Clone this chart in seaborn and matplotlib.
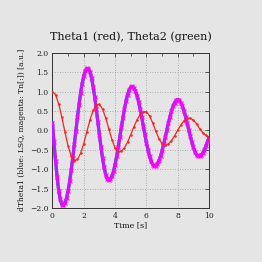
import numpy as np
import matplotlib
matplotlib.use("Agg")
import matplotlib.pyplot as plt
import seaborn as sns
from matplotlib.ticker import MultipleLocator

# Theta1 (red), sampled every 0.2 s
theta1 = [1.00, 0.92, 0.68, 0.34, -0.04, -0.40, -0.66, -0.785, -0.75, -0.59,
          -0.34, -0.03, 0.27, 0.515, 0.656, 0.669, 0.549, 0.322, 0.038, -0.242,
          -0.455, -0.556, -0.538, -0.448, -0.298, -0.110, 0.089, 0.269, 0.407, 0.481,
          0.477, 0.374, 0.194, -0.021, -0.218, -0.351, -0.389, -0.352, -0.264, -0.138,
          0.004, 0.140, 0.248, 0.310, 0.315, 0.265, 0.167, 0.040, -0.06, -0.13, -0.19]
t1 = np.linspace(0, 10, len(theta1))

# dTheta1 (magenta Tn[:], blue LSQ), sampled every 0.1 s
dtheta1 = [0.20, -0.30, -0.78, -1.20, -1.55, -1.78, -1.91, -1.93, -1.87, -1.747,
           -1.56, -1.316, -1.026, -0.703, -0.359, -0.006, 0.340, 0.665, 0.958, 1.206,
           1.399, 1.531, 1.595, 1.586, 1.502, 1.347, 1.127, 0.859, 0.549, 0.221,
           -0.111, -0.429, -0.716, -0.956, -1.138, -1.251, -1.29, -1.263, -1.182, -1.053,
           -0.880, -0.670, -0.435, -0.183, 0.074, 0.323, 0.554, 0.757, 0.922, 1.043,
           1.113, 1.129, 1.095, 1.015, 0.893, 0.734, 0.545, 0.337, 0.116, -0.105,
           -0.315, -0.506, -0.670, -0.794, -0.880, -0.918, -0.911, -0.864, -0.781, -0.666,
           -0.524, -0.360, -0.183, -0.002, 0.178, 0.346, 0.496, 0.620, 0.713, 0.770,
           0.79, 0.770, 0.713, 0.619, 0.496, 0.349, 0.186, 0.018, -0.150, -0.305,
           -0.441, -0.550, -0.626, -0.665, -0.666, -0.638, -0.583, -0.503, -0.402, -0.286,
           -0.19]
t2 = np.linspace(0, 10, len(dtheta1))

xticks = [0, 2, 4, 6, 8, 10]
yticks = [-2.0, -1.5, -1.0, -0.5, 0.0, 0.5, 1.0, 1.5, 2.0]

sns.set_style("white")
plt.rcParams['font.family'] = ['DejaVu Serif']
plt.rcParams['axes.unicode_minus'] = True

bg = "#e5e5e5"
fig = plt.figure(figsize=(2.62, 2.62), dpi=100, facecolor=bg)
ax = fig.add_axes([0.2, 0.206, 0.598, 0.593], facecolor=bg)

sns.lineplot(x=t2, y=dtheta1, ax=ax, color="#40c040", lw=2.2, zorder=2)
sns.lineplot(x=t2, y=dtheta1, ax=ax, color="#6a40ff", lw=2.2, zorder=3)
sns.lineplot(x=t2, y=dtheta1, ax=ax, color="#ff00ff", lw=2.4, alpha=0.55, zorder=4)
sns.scatterplot(x=t2, y=dtheta1, ax=ax, color="#ff00ff", marker="x", s=8,
                linewidth=0.9, alpha=0.9, zorder=5)
sns.lineplot(x=t1, y=theta1, ax=ax, color="#ff2020", lw=0.9, marker="o",
             markersize=1.8, markeredgewidth=0, zorder=6)

ax.set_xlim(0, 10)
ax.set_ylim(-2, 2)
ax.set_xticks(xticks)
ax.set_yticks(yticks)
ax.set_yticklabels([f"{v:.1f}".replace("-", "\u2212") for v in yticks])
ax.xaxis.set_minor_locator(MultipleLocator(1))
ax.tick_params(which="both", direction="in", top=True, right=True, labelsize=5.5,
               colors="#222222", pad=3)
ax.tick_params(which="major", length=3, width=0.5)
ax.tick_params(which="minor", length=2, width=0.5)
ax.grid(True, which="major", color="#999999", linestyle=(0, (1, 2)), lw=0.6)
for s in ax.spines.values():
    s.set_color("#333333")
    s.set_linewidth(0.7)

ax.set_title("Theta1 (red), Theta2 (green)", fontsize=8, pad=9, color="#111111")
ax.set_xlabel("Time [s]", fontsize=5.8, labelpad=1, color="#111111")
ax.set_ylabel("dTheta1 (blue: LSQ, magenta: Tn[:]) [a.u.]", fontsize=5.5,
              labelpad=3, color="#111111")

fig.savefig("out.png", dpi=100, facecolor=bg)
